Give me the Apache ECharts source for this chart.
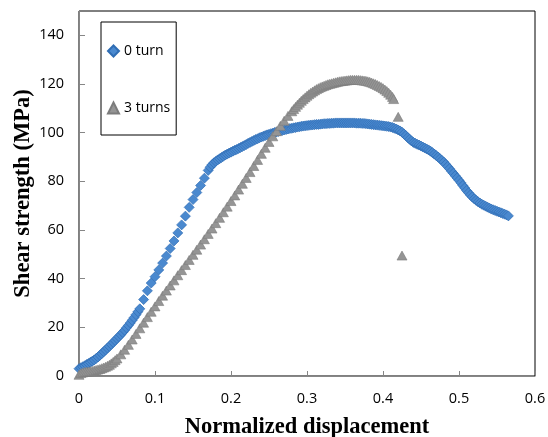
<!DOCTYPE html>
<html>
<head>
<meta charset="utf-8">
<script src="https://cdn.jsdelivr.net/npm/echarts@6/dist/echarts.min.js"></script>
<style>
html,body{margin:0;padding:0;background:#fff;}
#c{width:548px;height:437px;}
</style>
</head>
<body>
<div id="c"></div>
<script>
var seriesNames = ['0 turn', '3 turns'];
var xTicks = [0, 0.1, 0.2, 0.3, 0.4, 0.5, 0.6];
var yTicks = [0, 20, 40, 60, 80, 100, 120, 140];

var turn0 = [
[0.0000,3.0],[0.0025,3.4],[0.0050,3.8],[0.0075,4.2],[0.0100,4.7],[0.0125,5.1],[0.0150,5.6],[0.0175,6.1],
[0.0200,6.6],[0.0225,7.2],[0.0250,7.8],[0.0275,8.5],[0.0300,9.2],[0.0325,10.0],[0.0350,10.7],[0.0375,11.5],
[0.0400,12.2],[0.0425,13.0],[0.0450,13.8],[0.0475,14.6],[0.0500,15.4],[0.0525,16.2],[0.0550,17.0],[0.0575,17.9],
[0.0600,18.8],[0.0625,19.8],[0.0650,20.8],[0.0675,21.8],[0.0700,22.9],[0.0725,24.0],[0.0750,25.2],[0.0775,26.4],
[0.0800,27.6],[0.085,31.4],[0.090,35.0],[0.095,38.2],[0.100,40.8],[0.105,43.6],[0.110,46.4],[0.115,49.3],
[0.120,52.4],[0.125,55.5],[0.130,58.8],[0.135,62.1],[0.140,65.7],[0.145,69.3],[0.150,72.5],[0.155,75.4],
[0.160,78.3],[0.165,81.3],[0.170,84.5],[0.1725,85.8],[0.175,86.8],[0.1775,87.6],[0.180,88.2],[0.1825,88.8],
[0.185,89.3],[0.1875,89.8],[0.190,90.3],[0.1925,90.8],[0.195,91.2],[0.1975,91.6],[0.200,92.0],[0.2025,92.4],
[0.205,92.8],[0.2075,93.1],[0.210,93.5],[0.2125,93.9],[0.215,94.3],[0.2175,94.7],[0.220,95.1],[0.2225,95.6],
[0.225,96.0],[0.2275,96.4],[0.230,96.8],[0.2325,97.2],[0.235,97.5],[0.2375,97.9],[0.240,98.2],[0.2425,98.5],
[0.245,98.8],[0.2475,99.1],[0.250,99.3],[0.2525,99.6],[0.255,99.8],[0.2575,100.1],[0.260,100.3],[0.2625,100.5],
[0.265,100.7],[0.2675,100.9],[0.270,101.1],[0.2725,101.3],[0.275,101.5],[0.2775,101.7],[0.280,101.8],[0.2825,102.0],
[0.285,102.1],[0.2875,102.3],[0.290,102.4],[0.2925,102.6],[0.295,102.7],[0.2975,102.8],[0.300,102.9],[0.3025,103.0],
[0.305,103.1],[0.3075,103.2],[0.310,103.3],[0.3125,103.4],[0.315,103.4],[0.3175,103.5],[0.320,103.6],[0.3225,103.7],
[0.325,103.7],[0.3275,103.8],[0.330,103.8],[0.3325,103.9],[0.335,103.9],[0.3375,104.0],[0.340,104.0],[0.3425,104.0],
[0.345,104.0],[0.3475,104.0],[0.350,104.0],[0.3525,104.0],[0.355,104.0],[0.3575,104.0],[0.360,104.0],[0.3625,104.0],
[0.365,103.9],[0.3675,103.9],[0.370,103.9],[0.3725,103.8],[0.375,103.8],[0.3775,103.7],[0.380,103.6],[0.3825,103.5],
[0.385,103.4],[0.3875,103.3],[0.390,103.2],[0.3925,103.1],[0.395,103.0],[0.3975,102.9],[0.400,102.8],[0.4025,102.7],
[0.405,102.6],[0.4075,102.5],[0.410,102.3],[0.4125,102.1],[0.415,101.8],[0.4175,101.5],[0.420,101.1],[0.4225,100.7],
[0.425,100.2],[0.4275,99.5],[0.430,98.8],[0.4325,98.0],[0.435,97.3],[0.4375,96.6],[0.440,96.0],[0.4425,95.6],
[0.445,95.2],[0.4475,94.9],[0.450,94.5],[0.4525,94.1],[0.455,93.7],[0.4575,93.3],[0.460,92.9],[0.4625,92.4],
[0.465,91.8],[0.4675,91.2],[0.470,90.6],[0.4725,90.0],[0.475,89.3],[0.4775,88.6],[0.480,87.9],[0.4825,87.0],
[0.485,86.1],[0.4875,85.2],[0.490,84.2],[0.4925,83.3],[0.495,82.3],[0.4975,81.4],[0.500,80.4],[0.5025,79.4],
[0.505,78.3],[0.5075,77.3],[0.510,76.2],[0.5125,75.3],[0.515,74.4],[0.5175,73.6],[0.520,72.8],[0.5225,72.2],
[0.525,71.6],[0.5275,71.1],[0.530,70.6],[0.5325,70.2],[0.535,69.8],[0.5375,69.4],[0.540,69.0],[0.5425,68.6],
[0.545,68.3],[0.5475,68.0],[0.550,67.7],[0.5525,67.4],[0.555,67.1],[0.5575,66.8],[0.560,66.5],[0.5625,66.2],
[0.565,65.8]
];

var turn3 = [
[0.0000,0.5],[0.0025,1.2],[0.0050,1.5],[0.0075,1.7],[0.0100,1.8],[0.0125,1.9],[0.0150,2.0],[0.0175,2.1],
[0.0200,2.3],[0.0225,2.5],[0.0250,2.7],[0.0275,2.9],[0.0300,3.2],[0.0325,3.5],[0.0350,3.8],[0.0375,4.2],
[0.0400,4.6],[0.0425,5.2],[0.0450,5.8],[0.0475,6.5],[0.050,7.2],[0.055,8.9],[0.060,10.8],[0.065,12.8],
[0.070,15.0],[0.075,17.3],[0.080,19.6],[0.085,21.9],[0.090,24.2],[0.095,26.4],[0.100,28.6],[0.105,30.8],
[0.110,33.0],[0.115,35.1],[0.120,37.2],[0.125,39.3],[0.130,41.4],[0.135,43.5],[0.140,45.6],[0.145,47.7],
[0.150,49.8],[0.155,51.9],[0.160,54.0],[0.165,56.2],[0.170,58.4],[0.175,60.6],[0.180,62.8],[0.185,65.0],
[0.190,67.3],[0.195,69.6],[0.200,71.9],[0.205,74.2],[0.210,76.6],[0.215,79.0],[0.220,81.4],[0.225,83.8],
[0.230,86.3],[0.235,88.8],[0.240,91.3],[0.245,93.8],[0.250,96.2],[0.255,98.5],[0.260,100.6],[0.265,102.8],
[0.270,104.9],[0.275,106.9],[0.280,108.8],[0.2825,109.7],[0.285,110.6],[0.2875,111.5],[0.290,112.3],[0.2925,113.1],
[0.295,113.8],[0.2975,114.5],[0.300,115.2],[0.3025,115.8],[0.305,116.4],[0.3075,116.9],[0.310,117.4],[0.3125,117.9],
[0.315,118.3],[0.3175,118.7],[0.320,119.0],[0.3225,119.3],[0.325,119.6],[0.3275,119.9],[0.330,120.1],[0.3325,120.3],
[0.335,120.5],[0.3375,120.7],[0.340,120.9],[0.3425,121.1],[0.345,121.2],[0.3475,121.3],[0.350,121.4],[0.3525,121.5],
[0.355,121.6],[0.3575,121.7],[0.360,121.7],[0.3625,121.7],[0.365,121.7],[0.3675,121.7],[0.370,121.6],[0.3725,121.5],
[0.375,121.4],[0.3775,121.3],[0.380,121.1],[0.3825,120.9],[0.385,120.6],[0.3875,120.3],[0.390,120.0],[0.3925,119.6],
[0.395,119.2],[0.3975,118.8],[0.400,118.3],[0.4025,117.7],[0.405,117.1],[0.4075,116.4],[0.410,115.6],[0.4125,114.7],
[0.414,113.8],[0.420,106.5],[0.425,49.5]
];

var chart = echarts.init(document.getElementById('c'), null, {renderer: 'canvas'});
var axisColor = '#868686';
var tickFont = {fontFamily: 'Open Sans', fontSize: 14.5, color: '#000'};
var titleFont = {fontFamily: 'Liberation Serif', fontWeight: 'bold', fontSize: 22.5, color: '#000'};
chart.setOption({
  animation: false,
  backgroundColor: '#fff',
  grid: {left: 79, right: 13, top: 11, bottom: 61, containLabel: false, outerBoundsMode: 'none',
         show: true, borderColor: '#000', borderWidth: 1, backgroundColor: 'transparent'},
  legend: {
    orient: 'vertical', left: 101, top: 22,
    padding: [22, 6, 20, 6],
    itemGap: 43, itemWidth: 11, itemHeight: 11,
    borderColor: '#000', borderWidth: 1,
    textStyle: {fontFamily: 'Open Sans', fontSize: 14, color: '#000'},
    data: [{name: seriesNames[0], icon: 'diamond'}, {name: seriesNames[1], icon: 'triangle'}]
  },
  xAxis: {
    type: 'value', min: xTicks[0], max: xTicks[xTicks.length - 1], interval: 0.1,
    name: 'Normalized displacement', nameLocation: 'middle', nameGap: 40, nameMoveOverlap: false,
    nameTextStyle: titleFont,
    axisLine: {lineStyle: {color: axisColor, width: 1}},
    axisTick: {inside: true, length: 5, lineStyle: {color: axisColor}},
    axisLabel: Object.assign({margin: 15, formatter: function(v){ var r = Math.round(v*10)/10; return xTicks.indexOf(r) >= 0 ? String(r) : ''; }}, tickFont),
    splitLine: {show: false}
  },
  yAxis: {
    type: 'value', min: 0, max: 150, interval: 20,
    name: 'Shear strength (MPa)', nameLocation: 'middle', nameGap: 44, nameMoveOverlap: false,
    nameTextStyle: titleFont,
    axisLine: {lineStyle: {color: axisColor, width: 1}},
    axisTick: {inside: true, length: 6, lineStyle: {color: axisColor}},
    axisLabel: Object.assign({margin: 15, showMaxLabel: false, formatter: function(v){ return yTicks.indexOf(v) >= 0 ? String(v) : ''; }}, tickFont),
    splitLine: {show: false}
  },
  series: [
    {
      name: seriesNames[0], type: 'scatter', data: turn0,
      symbol: 'diamond', symbolSize: 10,
      itemStyle: {color: '#4a89cf', borderColor: '#2f6db4', borderWidth: 0.7, opacity: 1},
      z: 2
    },
    {
      name: seriesNames[1], type: 'scatter', data: turn3,
      symbol: 'triangle', symbolSize: [10, 9],
      itemStyle: {color: '#959595', borderColor: '#7c7c7c', borderWidth: 0.6, opacity: 1},
      z: 3
    }
  ]
});
</script>
</body>
</html>
